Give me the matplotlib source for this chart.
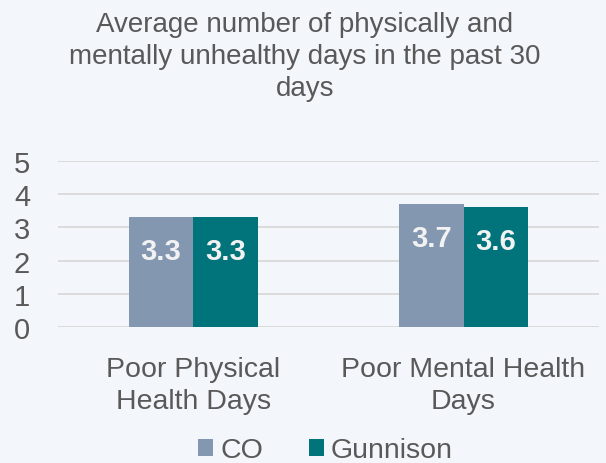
import matplotlib
matplotlib.use("Agg")
import matplotlib.pyplot as plt
from matplotlib.patches import Patch
import numpy as np

plt.rcParams['font.family'] = ['Liberation Sans', 'DejaVu Sans']

categories = ["Poor Physical\nHealth Days", "Poor Mental Health\nDays"]
series_names = ["CO", "Gunnison"]
co_values = [3.3, 3.7]
gunnison_values = [3.3, 3.6]
label_co = ["3.3", "3.7"]
label_gun = ["3.3", "3.6"]
yticks = [0, 1, 2, 3, 4, 5]
title = "Average number of physically and\nmentally unhealthy days in the past 30\ndays"

bg = '#F3F6FB'
text_color = '#595959'
c_co = '#8497B0'
c_gun = '#00747A'

fig = plt.figure(figsize=(6.06, 4.64), dpi=100, facecolor=bg)
ax = fig.add_axes([0.0957, 0.2925, 0.8923, 0.3588])
ax.set_facecolor(bg)

x = np.arange(len(categories))
w = 0.2385
b1 = ax.bar(x - w / 2, co_values, w, color=c_co, zorder=3)
b2 = ax.bar(x + w / 2, gunnison_values, w, color=c_gun, zorder=3)

for bars, labels in ((b1, label_co), (b2, label_gun)):
    for rect, lab in zip(bars, labels):
        ax.annotate(lab, (rect.get_x() + rect.get_width() / 2, rect.get_height()),
                    xytext=(0, -24.5), textcoords='offset points',
                    ha='center', va='center', fontsize=21, fontweight='bold',
                    color='#F2F2F2', zorder=4)

ax.set_xlim(-0.5, 1.5)
ax.set_ylim(0, 5)
ax.set_yticks(yticks)
ax.set_yticklabels([str(t) for t in yticks])
ax.set_xticks(x)
ax.set_xticklabels(categories, linespacing=1.3)
ax.yaxis.grid(True, color='#D9D9D9', linewidth=1.3, zorder=0)
ax.set_axisbelow(True)
for s in ax.spines.values():
    s.set_visible(False)
ax.tick_params(axis='y', length=0, pad=20, labelsize=21, labelcolor=text_color)
ax.tick_params(axis='x', length=0, pad=20.5, labelsize=20.5, labelcolor=text_color)

fig.text(0.503, 0.975, title, ha='center', va='top', fontsize=20,
         color=text_color, linespacing=1.3)

handles = [Patch(facecolor=c_co, edgecolor='none'), Patch(facecolor=c_gun, edgecolor='none')]
leg = fig.legend(handles, series_names, loc='center', bbox_to_anchor=(0.537, 0.027),
                 ncol=2, frameon=False, fontsize=20.5, handlelength=0.53,
                 handleheight=0.53, handletextpad=0.25, columnspacing=1.6,
                 labelcolor=text_color, borderpad=0, borderaxespad=0)

fig.savefig('out.png', dpi=100, facecolor=bg)
